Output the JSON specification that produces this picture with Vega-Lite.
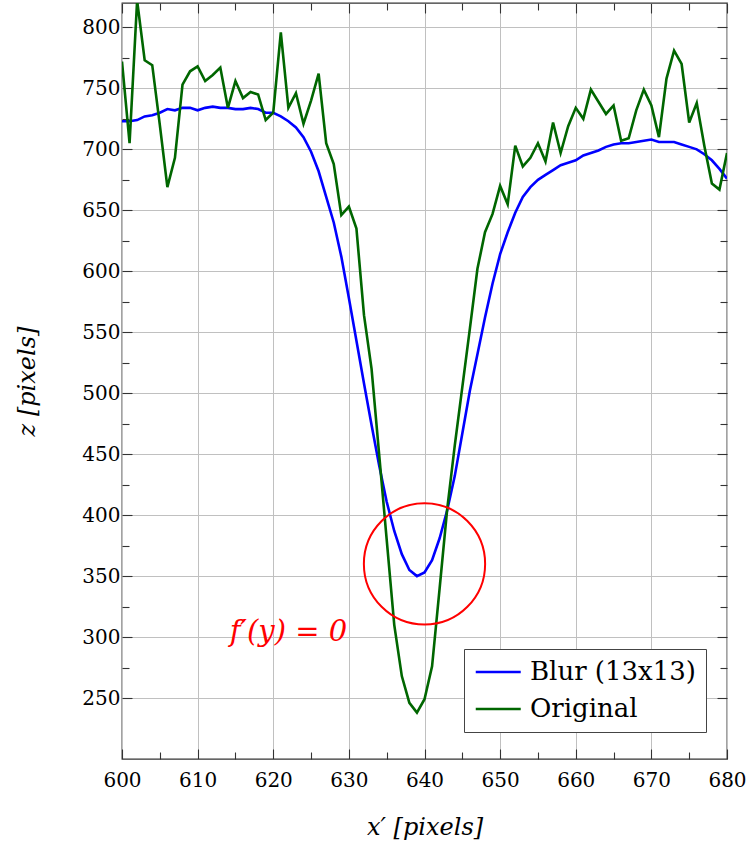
{
  "$schema": "https://vega.github.io/schema/vega-lite/v6.json",
  "width": 605,
  "height": 756,
  "autosize": {"type": "none"},
  "padding": {"left": 122, "top": 3, "right": 19, "bottom": 86},
  "background": "white",
  "config": {
    "view": {"stroke": "#333333", "strokeWidth": 1.3},
    "axis": {
      "labelFont": "DejaVu Serif",
      "titleFont": "DejaVu Serif",
      "labelFontSize": 20,
      "titleFontSize": 24,
      "titleFontWeight": "normal",
      "titleFontStyle": "italic",
      "labelColor": "#000000",
      "titleColor": "#000000",
      "tickColor": "#333333",
      "tickWidth": 1.1,
      "gridColor": "#c0c0c0",
      "gridWidth": 1,
      "domain": false,
      "labelOverlap": false,
      "labelFlush": false
    }
  },
  "datasets": {
    "profiles": [
      {"x":600,"series":"Blur (13x13)","z":723},{"x":601,"series":"Blur (13x13)","z":723},{"x":602,"series":"Blur (13x13)","z":724},{"x":603,"series":"Blur (13x13)","z":727},{"x":604,"series":"Blur (13x13)","z":728},{"x":605,"series":"Blur (13x13)","z":730},{"x":606,"series":"Blur (13x13)","z":733},{"x":607,"series":"Blur (13x13)","z":732},{"x":608,"series":"Blur (13x13)","z":734},{"x":609,"series":"Blur (13x13)","z":734},{"x":610,"series":"Blur (13x13)","z":732},{"x":611,"series":"Blur (13x13)","z":734},{"x":612,"series":"Blur (13x13)","z":735},{"x":613,"series":"Blur (13x13)","z":734},{"x":614,"series":"Blur (13x13)","z":734},{"x":615,"series":"Blur (13x13)","z":733},{"x":616,"series":"Blur (13x13)","z":733},{"x":617,"series":"Blur (13x13)","z":734},{"x":618,"series":"Blur (13x13)","z":733},{"x":619,"series":"Blur (13x13)","z":730},{"x":620,"series":"Blur (13x13)","z":730},
      {"x":621,"series":"Blur (13x13)","z":727},{"x":622,"series":"Blur (13x13)","z":723},{"x":623,"series":"Blur (13x13)","z":718},{"x":624,"series":"Blur (13x13)","z":710},{"x":625,"series":"Blur (13x13)","z":698},{"x":626,"series":"Blur (13x13)","z":682},{"x":627,"series":"Blur (13x13)","z":661},{"x":628,"series":"Blur (13x13)","z":640},{"x":629,"series":"Blur (13x13)","z":612},{"x":630,"series":"Blur (13x13)","z":578},{"x":631,"series":"Blur (13x13)","z":543},{"x":632,"series":"Blur (13x13)","z":508},{"x":633,"series":"Blur (13x13)","z":474},{"x":634,"series":"Blur (13x13)","z":441},{"x":635,"series":"Blur (13x13)","z":411},{"x":636,"series":"Blur (13x13)","z":387},{"x":637,"series":"Blur (13x13)","z":368},{"x":638,"series":"Blur (13x13)","z":355},{"x":639,"series":"Blur (13x13)","z":350},{"x":640,"series":"Blur (13x13)","z":353},
      {"x":641,"series":"Blur (13x13)","z":363},{"x":642,"series":"Blur (13x13)","z":381},{"x":643,"series":"Blur (13x13)","z":404},{"x":644,"series":"Blur (13x13)","z":432},{"x":645,"series":"Blur (13x13)","z":467},{"x":646,"series":"Blur (13x13)","z":502},{"x":647,"series":"Blur (13x13)","z":532},{"x":648,"series":"Blur (13x13)","z":562},{"x":649,"series":"Blur (13x13)","z":590},{"x":650,"series":"Blur (13x13)","z":614},{"x":651,"series":"Blur (13x13)","z":632},{"x":652,"series":"Blur (13x13)","z":648},{"x":653,"series":"Blur (13x13)","z":661},{"x":654,"series":"Blur (13x13)","z":669},{"x":655,"series":"Blur (13x13)","z":675},{"x":656,"series":"Blur (13x13)","z":679},{"x":657,"series":"Blur (13x13)","z":683},{"x":658,"series":"Blur (13x13)","z":687},{"x":659,"series":"Blur (13x13)","z":689},{"x":660,"series":"Blur (13x13)","z":691},
      {"x":661,"series":"Blur (13x13)","z":695},{"x":662,"series":"Blur (13x13)","z":697},{"x":663,"series":"Blur (13x13)","z":699},{"x":664,"series":"Blur (13x13)","z":702},{"x":665,"series":"Blur (13x13)","z":704},{"x":666,"series":"Blur (13x13)","z":705},{"x":667,"series":"Blur (13x13)","z":705},{"x":668,"series":"Blur (13x13)","z":706},{"x":669,"series":"Blur (13x13)","z":707},{"x":670,"series":"Blur (13x13)","z":708},{"x":671,"series":"Blur (13x13)","z":706},{"x":672,"series":"Blur (13x13)","z":706},{"x":673,"series":"Blur (13x13)","z":706},{"x":674,"series":"Blur (13x13)","z":704},{"x":675,"series":"Blur (13x13)","z":702},{"x":676,"series":"Blur (13x13)","z":700},{"x":677,"series":"Blur (13x13)","z":696},{"x":678,"series":"Blur (13x13)","z":691},{"x":679,"series":"Blur (13x13)","z":684},{"x":680,"series":"Blur (13x13)","z":676},
      {"x":600,"series":"Original","z":772},{"x":601,"series":"Original","z":705},{"x":602,"series":"Original","z":822},{"x":603,"series":"Original","z":773},{"x":604,"series":"Original","z":769},{"x":605,"series":"Original","z":720},{"x":606,"series":"Original","z":669},{"x":607,"series":"Original","z":693},{"x":608,"series":"Original","z":753},{"x":609,"series":"Original","z":764},{"x":610,"series":"Original","z":768},{"x":611,"series":"Original","z":756},{"x":612,"series":"Original","z":761},{"x":613,"series":"Original","z":767},{"x":614,"series":"Original","z":734},{"x":615,"series":"Original","z":756},{"x":616,"series":"Original","z":742},{"x":617,"series":"Original","z":747},{"x":618,"series":"Original","z":745},{"x":619,"series":"Original","z":724},{"x":620,"series":"Original","z":730},
      {"x":621,"series":"Original","z":796},{"x":622,"series":"Original","z":734},{"x":623,"series":"Original","z":746},{"x":624,"series":"Original","z":721},{"x":625,"series":"Original","z":740},{"x":626,"series":"Original","z":762},{"x":627,"series":"Original","z":705},{"x":628,"series":"Original","z":688},{"x":629,"series":"Original","z":646},{"x":630,"series":"Original","z":653},{"x":631,"series":"Original","z":635},{"x":632,"series":"Original","z":564},{"x":633,"series":"Original","z":520},{"x":634,"series":"Original","z":450},{"x":635,"series":"Original","z":380},{"x":636,"series":"Original","z":310},{"x":637,"series":"Original","z":268},{"x":638,"series":"Original","z":246},{"x":639,"series":"Original","z":238},{"x":640,"series":"Original","z":249},
      {"x":641,"series":"Original","z":276},{"x":642,"series":"Original","z":340},{"x":643,"series":"Original","z":405},{"x":644,"series":"Original","z":457},{"x":645,"series":"Original","z":505},{"x":646,"series":"Original","z":553},{"x":647,"series":"Original","z":602},{"x":648,"series":"Original","z":632},{"x":649,"series":"Original","z":647},{"x":650,"series":"Original","z":670},{"x":651,"series":"Original","z":655},{"x":652,"series":"Original","z":703},{"x":653,"series":"Original","z":686},{"x":654,"series":"Original","z":693},{"x":655,"series":"Original","z":705},{"x":656,"series":"Original","z":690},{"x":657,"series":"Original","z":722},{"x":658,"series":"Original","z":697},{"x":659,"series":"Original","z":719},{"x":660,"series":"Original","z":734},
      {"x":661,"series":"Original","z":725},{"x":662,"series":"Original","z":749},{"x":663,"series":"Original","z":739},{"x":664,"series":"Original","z":729},{"x":665,"series":"Original","z":736},{"x":666,"series":"Original","z":707},{"x":667,"series":"Original","z":709},{"x":668,"series":"Original","z":732},{"x":669,"series":"Original","z":749},{"x":670,"series":"Original","z":736},{"x":671,"series":"Original","z":710},{"x":672,"series":"Original","z":758},{"x":673,"series":"Original","z":781},{"x":674,"series":"Original","z":770},{"x":675,"series":"Original","z":722},{"x":676,"series":"Original","z":738},{"x":677,"series":"Original","z":703},{"x":678,"series":"Original","z":672},{"x":679,"series":"Original","z":667},{"x":680,"series":"Original","z":697}
    ],
    "marker": [{"x": 640, "z": 360}],
    "note": [{"x": 622, "z": 304, "label": "f′(y) = 0"}]
  },
  "resolve": {"axis": {"x": "independent", "y": "independent"}},
  "layer": [
    {
      "data": {"name": "profiles"},
      "mark": {"type": "line", "clip": true, "strokeWidth": 2.6, "strokeJoin": "miter"},
      "encoding": {
        "x": {
          "field": "x", "type": "quantitative",
          "scale": {"domain": [600, 680], "nice": false, "zero": false},
          "axis": {
            "orient": "bottom",
            "values": [600,605,610,615,620,625,630,635,640,645,650,655,660,665,670,675,680],
            "title": "x′ [pixels]",
            "labelExpr": "datum.value % 10 === 0 ? datum.label : ''",
            "tickSize": {"condition": {"test": "datum.value % 10 === 0", "value": -10}, "value": -7},
            "gridOpacity": {"condition": {"test": "datum.value % 10 === 0", "value": 1}, "value": 0},
            "labelPadding": 21,
            "titlePadding": 22
          }
        },
        "y": {
          "field": "z", "type": "quantitative",
          "scale": {"domain": [200, 820], "nice": false, "zero": false},
          "axis": {
            "orient": "left",
            "values": [250,275,300,325,350,375,400,425,450,475,500,525,550,575,600,625,650,675,700,725,750,775,800],
            "title": "z [pixels]",
            "labelExpr": "datum.value % 50 === 0 ? datum.label : ''",
            "tickSize": {"condition": {"test": "datum.value % 50 === 0", "value": -10}, "value": -7},
            "gridOpacity": {"condition": {"test": "datum.value % 50 === 0", "value": 1}, "value": 0},
            "labelPadding": 12,
            "titlePadding": 42
          }
        },
        "color": {
          "field": "series", "type": "nominal",
          "scale": {"domain": ["Blur (13x13)", "Original"], "range": ["#0000ff", "#006600"]},
          "legend": {
            "title": null,
            "orient": "none",
            "legendX": 342,
            "legendY": 646,
            "symbolType": "M-1,0L3,0",
            "symbolSize": 506,
            "symbolStrokeWidth": 2.6,
            "labelOffset": 30,
            "labelFont": "DejaVu Serif",
            "labelFontSize": 26,
            "labelColor": "#000000",
            "labelLimit": 400,
            "padding": 10,
            "rowPadding": 11,
            "strokeColor": "#444444",
            "fillColor": "#ffffff",
            "cornerRadius": 0
          }
        }
      }
    },
    {
      "data": {"name": "marker"},
      "mark": {"type": "point", "shape": "circle", "filled": false, "size": 14700, "stroke": "#ff0000", "strokeWidth": 2, "opacity": 1},
      "encoding": {
        "x": {
          "field": "x", "type": "quantitative",
          "axis": {
            "orient": "top",
            "values": [600,605,610,615,620,625,630,635,640,645,650,655,660,665,670,675,680],
            "title": null, "labels": false, "grid": false,
            "tickSize": {"condition": {"test": "datum.value % 10 === 0", "value": -10}, "value": -7}
          }
        },
        "y": {
          "field": "z", "type": "quantitative",
          "axis": {
            "orient": "right",
            "values": [250,275,300,325,350,375,400,425,450,475,500,525,550,575,600,625,650,675,700,725,750,775,800],
            "title": null, "labels": false, "grid": false,
            "tickSize": {"condition": {"test": "datum.value % 50 === 0", "value": -10}, "value": -7}
          }
        }
      }
    },
    {
      "data": {"name": "note"},
      "mark": {"type": "text", "font": "DejaVu Serif", "fontStyle": "italic", "fontSize": 29, "color": "#ff0000", "align": "center", "baseline": "middle"},
      "encoding": {
        "x": {"field": "x", "type": "quantitative", "axis": null},
        "y": {"field": "z", "type": "quantitative", "axis": null},
        "text": {"field": "label"}
      }
    }
  ]
}
